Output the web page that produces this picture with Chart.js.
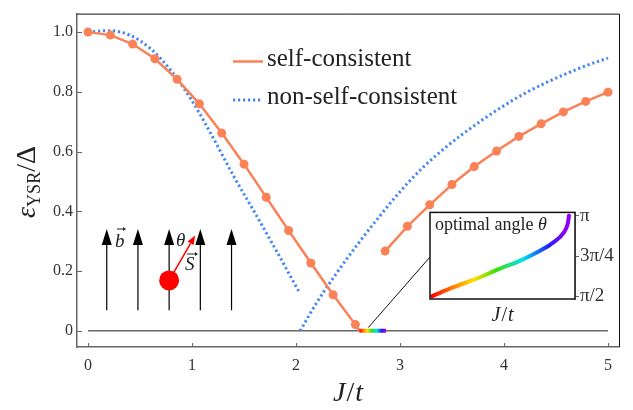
<!DOCTYPE html>
<html>
<head>
<meta charset="utf-8">
<script src="https://cdn.jsdelivr.net/npm/chart.js@4.4.1/dist/chart.umd.min.js"></script>
<style>
  html, body { margin: 0; padding: 0; background: #fff; }
  #wrap { position: relative; width: 633px; height: 410px; }
  #mainChart { position: absolute; left: 0; top: 0; }
  #insetChart { position: absolute; left: 420px; top: 200px; }
</style>
</head>
<body>
<div id="wrap">
  <canvas id="mainChart" width="633" height="410"></canvas>
  <canvas id="insetChart" width="213" height="130"></canvas>
</div>
<script>
// DATA
const scLeftJ  = [0, 0.214, 0.429, 0.643, 0.857, 1.071, 1.286, 1.5, 1.714, 1.929, 2.143, 2.357, 2.571, 2.61];
const scLeftE  = [1.0, 0.99, 0.96, 0.911, 0.842, 0.76, 0.662, 0.558, 0.447, 0.336, 0.227, 0.121, 0.021, 0];
const scRightJ = [2.857, 3.071, 3.286, 3.5, 3.714, 3.929, 4.143, 4.357, 4.571, 4.786, 5.0];
const scRightE = [0.267, 0.35, 0.422, 0.49, 0.55, 0.602, 0.651, 0.693, 0.733, 0.768, 0.799];

const nscLeftJ  = [0, 0.2, 0.4, 0.6, 0.8, 1.0, 1.2, 1.4, 1.6, 1.8, 2.03];
const nscLeftE  = [1.0, 1.005, 0.99, 0.945, 0.87, 0.77, 0.648, 0.518, 0.398, 0.275, 0.13];
const nscRightJ = [2.04, 2.2, 2.4, 2.6, 2.8, 3.0, 3.2, 3.4, 3.6, 3.8, 4.0, 4.2, 4.4, 4.6, 4.8, 5.0];
const nscRightE = [0, 0.095, 0.198, 0.293, 0.382, 0.466, 0.54, 0.603, 0.658, 0.708, 0.754, 0.795, 0.83, 0.861, 0.889, 0.913];

const zeroJ = [0, 5];
const tiltJ = [2.61, 2.865];   // range where the spin tilts (rainbow bar)

const insetJ     = [2.61, 2.649, 2.692, 2.734, 2.771, 2.807, 2.831, 2.850, 2.858, 2.860];
const insetTheta = [1.578, 1.750, 1.921, 2.111, 2.268, 2.458, 2.616, 2.806, 2.996, 3.1416];

const xTicks = [0, 1, 2, 3, 4, 5];
const yTicks = [0, 0.2, 0.4, 0.6, 0.8, 1.0];
const yTickLabels = ["0", "0.2", "0.4", "0.6", "0.8", "1.0"];
const insetTicks = [Math.PI / 2, 3 * Math.PI / 4, Math.PI];
const insetTickLabels = ["π/2", "3π/4", "π"];

const fieldJ = [0.18, 0.48, 0.78, 1.08, 1.38];

// STYLE
const SERIF = "'Liberation Serif', 'DejaVu Serif', serif";
const ORANGE = "#fb8157";
const BLUE = "#4285f4";
const AXIS = "#666";
const TEXT = "#222";

const pts = (xs, ys) => xs.map((x, i) => ({ x: x, y: ys[i] }));

function rainbow(chart) {
  const sx = chart.scales && chart.scales.x;
  if (!sx || !chart.chartArea) return "#f00";
  const g = chart.ctx.createLinearGradient(sx.getPixelForValue(tiltJ[0]), 0, sx.getPixelForValue(tiltJ[1]), 0);
  g.addColorStop(0, "#ff0000");
  g.addColorStop(0.15, "#ff8000");
  g.addColorStop(0.3, "#ffe000");
  g.addColorStop(0.45, "#40e000");
  g.addColorStop(0.65, "#00e0f0");
  g.addColorStop(0.83, "#2020ff");
  g.addColorStop(0.95, "#9000f0");
  g.addColorStop(1, "#9000ff");
  return g;
}

// draws a row of text pieces with different fonts, centred at x
function richText(ctx, pieces, x, y) {
  let w = 0;
  pieces.forEach(p => { ctx.font = p.font; w += ctx.measureText(p.t).width + (p.gap || 0); });
  let cx = x - w / 2;
  pieces.forEach(p => {
    ctx.font = p.font;
    ctx.fillText(p.t, cx, y + (p.dy || 0));
    cx += ctx.measureText(p.t).width + (p.gap || 0);
  });
}

function arrow(ctx, x0, y0, x1, y1, head, width, color, lw) {
  const a = Math.atan2(y1 - y0, x1 - x0);
  const bx = x1 - head * Math.cos(a), by = y1 - head * Math.sin(a);
  ctx.strokeStyle = color;
  ctx.fillStyle = color;
  ctx.lineWidth = lw;
  ctx.beginPath();
  ctx.moveTo(x0, y0);
  ctx.lineTo(bx, by);
  ctx.stroke();
  ctx.beginPath();
  ctx.moveTo(x1, y1);
  ctx.lineTo(bx + width / 2 * Math.sin(a), by - width / 2 * Math.cos(a));
  ctx.lineTo(bx - width / 2 * Math.sin(a), by + width / 2 * Math.cos(a));
  ctx.closePath();
  ctx.fill();
}

const mainDecor = {
  id: "mainDecor",
  afterDatasetsDraw(chart) {
    const ctx = chart.ctx;
    const { left, right, top, bottom } = chart.chartArea;
    const sx = chart.scales.x, sy = chart.scales.y;
    ctx.save();

    // frame top/right
    ctx.strokeStyle = "#111";
    ctx.lineWidth = 1;
    ctx.beginPath();
    ctx.moveTo(left, top + 0.5);
    ctx.lineTo(right + 0.5, top + 0.5);
    ctx.lineTo(right + 0.5, bottom);
    ctx.stroke();

    // inward ticks
    ctx.strokeStyle = AXIS;
    ctx.lineWidth = 1;
    xTicks.forEach(v => {
      const px = Math.round(sx.getPixelForValue(v)) + 0.5;
      ctx.beginPath(); ctx.moveTo(px, bottom); ctx.lineTo(px, bottom - 4); ctx.stroke();
    });
    yTicks.forEach(v => {
      const py = Math.round(sy.getPixelForValue(v)) + 0.5;
      ctx.beginPath(); ctx.moveTo(left, py); ctx.lineTo(left + 5, py); ctx.stroke();
    });

    // connector to inset
    ctx.strokeStyle = "#111";
    ctx.lineWidth = 1;
    ctx.beginPath();
    ctx.moveTo(sx.getPixelForValue(2.695), sy.getPixelForValue(0.011));
    ctx.lineTo(sx.getPixelForValue(3.288), sy.getPixelForValue(0.247));
    ctx.stroke();

    // legend
    const ds = chart.data.datasets;
    const legend = [ds[1], ds[3]];
    legend.forEach((d, i) => {
      const y = 61.5 + i * 38.5;
      ctx.strokeStyle = d.borderColor;
      ctx.lineWidth = d.borderWidth;
      ctx.setLineDash(d.borderDash || []);
      ctx.beginPath(); ctx.moveTo(233, y); ctx.lineTo(263, y); ctx.stroke();
      ctx.setLineDash([]);
      ctx.fillStyle = TEXT;
      ctx.font = "25px " + SERIF;
      ctx.textAlign = "left";
      ctx.textBaseline = "alphabetic";
      ctx.fillText(d.label, 267, y + 4);
    });

    // cartoon: field arrows, spin and its arrow
    const y0 = sy.getPixelForValue(0.069), y1 = sy.getPixelForValue(0.341);
    fieldJ.forEach(j => {
      const px = sx.getPixelForValue(j);
      arrow(ctx, px, y0, px, y1, 16, 10, "#000", 1.2);
    });
    const cx = sx.getPixelForValue(0.78), cy = sy.getPixelForValue(0.169);
    const tx = sx.getPixelForValue(1.03), ty = sy.getPixelForValue(0.319);
    arrow(ctx, cx, cy, tx, ty, 9, 7, "#ff0000", 1.5);
    ctx.fillStyle = "#ff0000";
    ctx.beginPath(); ctx.arc(cx, cy, 10, 0, Math.PI * 2); ctx.fill();

    ctx.fillStyle = TEXT;
    ctx.textAlign = "left";
    ctx.font = "italic 19px " + SERIF;
    ctx.fillText("b", 115, 247);
    ctx.fillText("θ", 176, 246);
    ctx.fillText("S", 185, 270);
    arrow(ctx, 117, 229, 126, 229, 3, 4, TEXT, 1);
    arrow(ctx, 187, 254, 198, 254, 3, 4, TEXT, 1);

    // axis titles
    ctx.fillStyle = TEXT;
    richText(ctx, [
      { t: "J", font: "italic 28px " + SERIF, gap: 1 },
      { t: "/", font: "28px " + SERIF, gap: 1 },
      { t: "t", font: "italic 28px " + SERIF }
    ], (left + right) / 2, 401);
    ctx.translate(35, 182);
    ctx.rotate(-Math.PI / 2);
    richText(ctx, [
      { t: "ε", font: "italic 28px " + SERIF },
      { t: "YSR", font: "18px " + SERIF, dy: 5 },
      { t: "/", font: "28px " + SERIF },
      { t: "Δ", font: "28px " + SERIF }
    ], 0, 0);
    ctx.restore();
  }
};

const mainChart = new Chart(document.getElementById("mainChart"), {
  type: "line",
  data: {
    datasets: [
      { label: "tilt", data: pts(tiltJ, [0, 0]), borderColor: c => rainbow(c.chart), borderWidth: 4, pointRadius: 0 },
      { label: "self-consistent", data: pts(scLeftJ, scLeftE), borderColor: ORANGE, backgroundColor: ORANGE,
        borderWidth: 2.5, pointRadius: scLeftJ.map((j, i) => i === scLeftJ.length - 1 ? 0 : 4.5), pointBorderWidth: 0 },
      { label: "self-consistent", data: pts(scRightJ, scRightE), borderColor: ORANGE, backgroundColor: ORANGE,
        borderWidth: 2.5, pointRadius: 4.5, pointBorderWidth: 0 },
      { label: "non-self-consistent", data: pts(nscLeftJ, nscLeftE), borderColor: BLUE, borderWidth: 3,
        borderDash: [2.2, 2.8], pointRadius: 0, cubicInterpolationMode: "monotone" },
      { label: "non-self-consistent", data: pts(nscRightJ, nscRightE), borderColor: BLUE, borderWidth: 3,
        borderDash: [2.2, 2.8], pointRadius: 0, cubicInterpolationMode: "monotone" },
      { label: "zero", data: pts(zeroJ, [0, 0]), borderColor: AXIS, borderWidth: 1.5, pointRadius: 0 }
    ]
  },
  options: {
    responsive: false,
    animation: false,
    devicePixelRatio: 1,
    layout: { padding: { left: 0, top: 12, right: 14, bottom: 0 } },
    plugins: { legend: { display: false }, tooltip: { enabled: false } },
    scales: {
      x: {
        type: "linear", min: -0.106, max: 5.106,
        afterBuildTicks: s => { s.ticks = xTicks.map(v => ({ value: v })); },
        afterFit: s => { s.height = 63; },
        ticks: { font: { family: SERIF, size: 16 }, color: "#333", padding: 9, callback: v => String(v) },
        grid: { drawOnChartArea: false, drawTicks: false },
        border: { color: AXIS, width: 1.5 }
      },
      y: {
        type: "linear", min: -0.054, max: 1.062,
        afterBuildTicks: s => { s.ticks = yTicks.map(v => ({ value: v })); },
        afterFit: s => { s.width = 77; },
        ticks: { font: { family: SERIF, size: 16 }, color: "#333", padding: 4,
          callback: (v, i) => yTickLabels[i] },
        grid: { drawOnChartArea: false, drawTicks: false },
        border: { color: AXIS, width: 1.5 }
      }
    }
  },
  plugins: [mainDecor]
});

// INSET: optimal angle
const insetDecor = {
  id: "insetDecor",
  beforeDatasetsDraw(chart) {
    const { left, right, top, bottom } = chart.chartArea;
    chart.ctx.save();
    chart.ctx.fillStyle = "#fff";
    chart.ctx.fillRect(left, top, right - left, bottom - top);
    chart.ctx.restore();
  },
  afterDraw(chart) {
    const ctx = chart.ctx;
    const { left, right, top, bottom } = chart.chartArea;
    ctx.save();
    ctx.strokeStyle = "#111";
    ctx.lineWidth = 1.5;
    ctx.strokeRect(left, top, right - left, bottom - top);
    ctx.fillStyle = TEXT;
    ctx.textAlign = "left";
    ctx.textBaseline = "alphabetic";
    ctx.font = "18px " + SERIF;
    ctx.fillText("optimal angle ", left + 5, top + 18);
    const w = ctx.measureText("optimal angle ").width;
    ctx.font = "italic 18px " + SERIF;
    ctx.fillText("θ", left + 5 + w, top + 18);
    richText(ctx, [
      { t: "J", font: "italic 20px " + SERIF, gap: 1 },
      { t: "/", font: "20px " + SERIF, gap: 1 },
      { t: "t", font: "italic 20px " + SERIF }
    ], (left + right) / 2, bottom + 22);
    ctx.restore();
  }
};

const insetChart = new Chart(document.getElementById("insetChart"), {
  type: "line",
  data: {
    datasets: [
      { label: "optimal angle", data: pts(insetJ, insetTheta), borderColor: c => rainbow(c.chart),
        borderWidth: 4, pointRadius: 0, cubicInterpolationMode: "monotone", borderCapStyle: "round" }
    ]
  },
  options: {
    responsive: false,
    animation: false,
    devicePixelRatio: 1,
    layout: { padding: { left: 10, top: 11, right: 0, bottom: 0 } },
    plugins: { legend: { display: false }, tooltip: { enabled: false } },
    scales: {
      x: {
        type: "linear", min: 2.606, max: 2.871,
        afterFit: s => { s.height = 31; },
        ticks: { display: false },
        grid: { display: false },
        border: { display: false }
      },
      y: {
        type: "linear", position: "right", min: 1.521, max: 3.204,
        afterBuildTicks: s => { s.ticks = insetTicks.map(v => ({ value: v })); },
        afterFit: s => { s.width = 58; },
        ticks: { font: { family: SERIF, size: 19 }, color: "#333", padding: 1,
          callback: (v, i) => insetTickLabels[i] },
        grid: { drawOnChartArea: false, drawTicks: true, tickLength: 4, color: AXIS },
        border: { color: AXIS, width: 1.5 }
      }
    }
  },
  plugins: [insetDecor]
});
</script>
</body>
</html>
